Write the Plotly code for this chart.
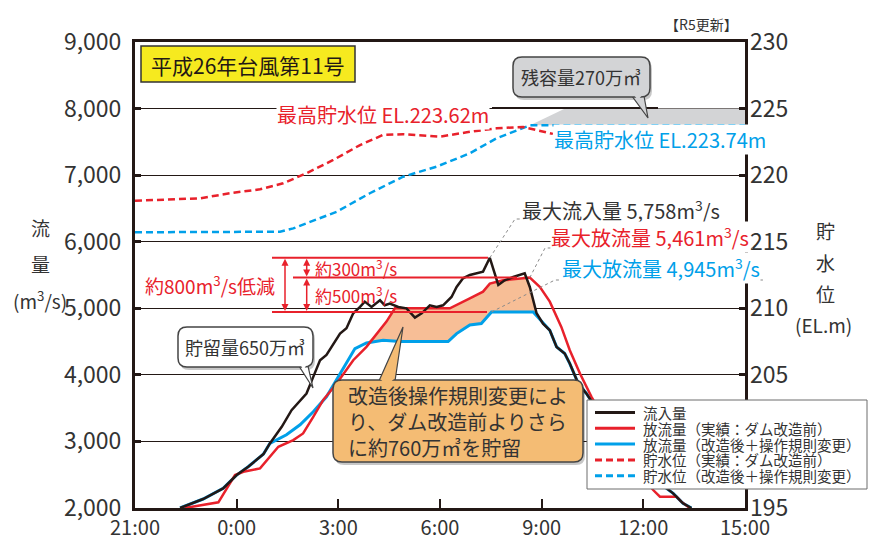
import plotly.graph_objects as go
import numpy as np

# ---------------- data ----------------
x_tick_vals = [0, 3, 6, 9, 12, 15, 18]            # hours since 21:00
x_tick_text = ["21:00", "0:00", "3:00", "6:00", "9:00", "12:00", "15:00"]

inflow_t = [1.33, 2.01, 2.6, 3.0, 3.34, 3.79, 3.98, 4.33, 4.62, 4.87, 5.06, 5.26, 5.46, 5.65,
            5.85, 6.05, 6.24, 6.44, 6.64, 6.78, 6.98, 7.23, 7.37, 7.52, 7.77, 8.01, 8.26, 8.46,
            8.70, 8.90, 9.09, 9.34, 9.49, 9.68, 9.88, 10.08, 10.27, 10.47, 10.72, 10.91, 11.16,
            11.50, 11.65, 11.85, 12.04, 12.24, 12.44, 12.68, 12.83, 13.08, 13.32, 13.8, 14.3,
            14.8, 15.19, 15.49, 15.88, 16.17, 16.42]
inflow_q = [2000, 2135, 2295, 2495, 2620, 2810, 2970, 3220, 3470, 3620, 3720, 3970, 4220, 4300,
            4470, 4620, 4700, 4925, 5020, 5100, 5020, 5120, 5045, 5070, 5020, 5000, 4860, 4925,
            5045, 5020, 5045, 5170, 5320, 5450, 5500, 5525, 5550, 5758, 5350, 5420, 5470,
            5525, 5320, 4925, 4770, 4670, 4420, 4320, 4170, 3870, 3720, 3350, 3000,
            2750, 2520, 2370, 2220, 2070, 2000]

out_act_t = [1.47, 2.46, 2.95, 3.2, 3.69, 3.98, 4.23, 4.67, 4.96, 5.26, 5.55, 5.95, 6.44, 6.83,
             7.1, 7.42, 7.67, 8.11, 9.29, 9.88, 10.27, 10.47, 10.86, 11.45, 11.65, 11.95, 12.24,
             12.58, 12.83, 13.13, 13.47, 14.0, 14.5, 15.0, 15.29, 15.49, 15.98, 16.12, 16.37]
out_act_q = [2000, 2085, 2495, 2545, 2595, 2770, 2920, 3020, 3120, 3370, 3620, 3870, 4220, 4420,
             4600, 4800, 5000, 5000, 5000, 5150, 5250, 5370, 5420, 5450, 5461, 5320, 5100,
             4720, 4370, 4020, 3670, 3200, 2800, 2450, 2270, 2170, 2170, 2095, 2000]

out_mod_t = [1.33, 2.01, 2.6, 3.0, 3.34, 3.79, 3.98, 4.47, 4.87, 5.26, 5.65, 6.05, 6.49, 6.83,
             7.32, 7.82, 9.24, 9.49, 9.88, 10.22, 10.52, 11.75, 11.9, 12.04, 12.24, 12.44,
             12.68, 12.83, 13.08, 13.32, 13.8, 14.3, 14.8, 15.19, 15.49, 15.88, 16.17, 16.42]
out_mod_q = [2000, 2135, 2295, 2495, 2620, 2810, 2970, 3100, 3250, 3445, 3670, 4020, 4395, 4480,
             4520, 4500, 4500, 4620, 4750, 4770, 4945, 4945, 4860, 4770, 4670, 4420,
             4320, 4170, 3870, 3720, 3350, 3000, 2750, 2520, 2370, 2220, 2070, 2000]

lvl_act_t = [0, 1.92, 2.80, 3.69, 4.37, 5.06, 5.85, 6.64, 7.32, 7.91, 9.0, 9.79, 10.67, 11.45, 12.33]
lvl_act_el = [218.08, 218.26, 218.64, 218.94, 219.39, 220.14, 221.14, 222.26, 223.02, 223.07,
              222.89, 223.22, 223.52, 223.62, 223.10]

lvl_mod_t = [0, 4.28, 4.67, 5.06, 5.95, 6.93, 7.91, 8.9, 9.88, 10.67, 11.66, 18]
lvl_mod_el = [215.71, 215.75, 216.0, 216.38, 217.25, 218.64, 219.88, 220.64, 221.64, 222.77,
              223.74, 223.74]

residual_top_t = [12.69, 18]      # 残容量 region top edge
residual_top_el = 225.0

peak_inflow = 5758
peak_out_act = 5461
peak_out_mod = 4945

legend_names = ["流入量", "放流量（実績：ダム改造前）", "放流量（改造後＋操作規則変更）",
                "貯水位（実績：ダム改造前）", "貯水位（改造後＋操作規則変更）"]

# ---------------- styling ----------------
FONT = "Noto Sans CJK JP, Noto Sans CJK SC, sans-serif"
BLACK = "#231815"
RED = "#E8212B"
CYAN = "#00A0E9"
TXT = "#333333"
DASH = "7px,4px"

OFF = 8                      # page body margin of the browser
W, H = 891 - OFF, 538 - OFF
L, R, T, B = 135, 745, 42, 508   # plot area in screenshot pixels
XMAX = 18
Q0, Q1 = 2000, 9000


def px_x(px):
    return (px - L) / (R - L)


def px_y(py):
    return (B - py) / (B - T)


def d2px_x(t):
    return L + t / XMAX * (R - L)


def d2px_y(q):
    return B - (q - Q0) / (Q1 - Q0) * (B - T)


def px2t(px):
    return (px - L) / (R - L) * XMAX


def P(x, y):
    return "{:.5f},{:.5f}".format(px_x(x), px_y(y))


fig = go.Figure()

# residual capacity (gray)
mt = np.array(lvl_mod_t)
me = np.array(lvl_mod_el)
mask = mt >= 11.66
gx = [mt[mask][0]] + residual_top_t + [mt[mask][-1]]
gy = [me[mask][0], residual_top_el, residual_top_el, me[mask][-1]]
fig.add_trace(go.Scatter(x=gx, y=gy, yaxis="y2", fill="toself", fillcolor="#D3D4D6",
                         line=dict(width=0), mode="lines", showlegend=False, hoverinfo="skip"))

# extra storage (orange)
at = np.array(out_act_t); aq = np.array(out_act_q)
it = np.array(inflow_t); iq = np.array(inflow_q)
bt = np.array(out_mod_t); bq = np.array(out_mod_q)
m1 = (at > 6.9) & (at <= 11.46)
m2 = (it >= 11.5) & (it <= 11.86)
m3 = (bt >= 6.8) & (bt <= 11.76)
ox = list(at[m1]) + list(it[m2]) + list(bt[m3][::-1])
oy = list(aq[m1]) + list(iq[m2]) + list(bq[m3][::-1])
fig.add_trace(go.Scatter(x=ox, y=oy, fill="toself", fillcolor="#F7BE96",
                         line=dict(width=0), mode="lines", showlegend=False, hoverinfo="skip"))

fig.add_trace(go.Scatter(x=lvl_mod_t, y=lvl_mod_el, yaxis="y2", mode="lines",
                         line=dict(color=CYAN, width=2.5, dash=DASH), name=legend_names[4]))
fig.add_trace(go.Scatter(x=lvl_act_t, y=lvl_act_el, yaxis="y2", mode="lines",
                         line=dict(color=RED, width=2.5, dash=DASH), name=legend_names[3]))
fig.add_trace(go.Scatter(x=out_mod_t, y=out_mod_q, mode="lines",
                         line=dict(color=CYAN, width=3), name=legend_names[2]))
fig.add_trace(go.Scatter(x=out_act_t, y=out_act_q, mode="lines",
                         line=dict(color=RED, width=2.5), name=legend_names[1]))
fig.add_trace(go.Scatter(x=inflow_t, y=inflow_q, mode="lines",
                         line=dict(color=BLACK, width=2.5), name=legend_names[0]))

shapes = []
annots = []

# red reduction reference lines
for q, x0, x1 in [(peak_inflow, 272, 488), (peak_out_act, 293, 517), (peak_out_mod, 272, 487)]:
    shapes.append(dict(type="line", xref="x", yref="y", x0=px2t(x0), x1=px2t(x1), y0=q, y1=q,
                       line=dict(color=RED, width=2), layer="above"))

# double arrows (drawn as shapes)
for xp_, ya, yb in [(285, peak_inflow, peak_out_mod), (306.7, peak_inflow, peak_out_act),
                    (306.7, peak_out_act, peak_out_mod)]:
    yt, yb_ = d2px_y(ya), d2px_y(yb)
    shapes.append(dict(type="line", xref="paper", yref="paper", x0=px_x(xp_), x1=px_x(xp_),
                       y0=px_y(yt + 5), y1=px_y(yb_ - 5), line=dict(color=RED, width=1.5),
                       layer="above"))
    for tip, base in [(yt + 1, yt + 8), (yb_ - 1, yb_ - 8)]:
        shapes.append(dict(type="path", xref="paper", yref="paper",
                           path="M " + P(xp_, tip) + " L " + P(xp_ - 3.5, base) + " L " +
                                P(xp_ + 3.5, base) + " Z",
                           fillcolor=RED, line=dict(width=0), layer="above"))


def peak_of(ts, qs):
    i = int(np.argmax(qs))
    return ts[i], qs[i]


# leader lines (dotted)
for (ts, qs), (mx, my), endx in [((inflow_t, inflow_q), (515, 219), 720),
                                 ((out_act_t, out_act_q), (545, 248), 753),
                                 ((out_mod_t, out_mod_q), (555, 280), 765)]:
    pt, pq = peak_of(ts, qs)
    path = "M " + P(d2px_x(pt), d2px_y(pq)) + " L " + P(mx, my) + " L " + P(endx, my)
    shapes.append(dict(type="path", xref="paper", yref="paper", path=path,
                       line=dict(color="#8a8a8a", width=1, dash="dot"), layer="above"))

# thicker line segment at 225
shapes.append(dict(type="line", xref="paper", yref="paper", x0=px_x(492), x1=px_x(658),
                   y0=px_y(108), y1=px_y(108), line=dict(color=BLACK, width=2), layer="above"))


def rrect(x0, y0, x1, y1, r):
    return ("M " + P(x0 + r, y0) + " L " + P(x1 - r, y0) + " Q " + P(x1, y0) + " " + P(x1, y0 + r) +
            " L " + P(x1, y1 - r) + " Q " + P(x1, y1) + " " + P(x1 - r, y1) +
            " L " + P(x0 + r, y1) + " Q " + P(x0, y1) + " " + P(x0, y1 - r) +
            " L " + P(x0, y0 + r) + " Q " + P(x0, y0) + " " + P(x0 + r, y0) + " Z")


def tri(p1, p2, p3):
    return "M " + P(*p1) + " L " + P(*p2) + " L " + P(*p3) + " Z"


def callout(box, ptr, fill, text, size, center):
    x0, y0, x1, y1 = box
    shapes.append(dict(type="path", xref="paper", yref="paper", path=rrect(x0 + 2, y0 + 3, x1 + 2, y1 + 3, 9),
                       fillcolor="rgba(0,0,0,0.22)", line=dict(width=0), layer="above"))
    shapes.append(dict(type="path", xref="paper", yref="paper", path=tri(*ptr),
                       fillcolor=fill, line=dict(color="#444444", width=1.2), layer="above"))
    shapes.append(dict(type="path", xref="paper", yref="paper", path=rrect(x0, y0, x1, y1, 9),
                       fillcolor=fill, line=dict(color="#444444", width=1.5), layer="above"))
    shapes.append(dict(type="path", xref="paper", yref="paper",
                       path=tri((ptr[0][0] + 1, ptr[0][1] - 2), (ptr[1][0] - 1, ptr[1][1] - 2),
                                ((ptr[0][0] + ptr[1][0]) / 2, ptr[0][1] + 4)),
                       fillcolor=fill, line=dict(width=0), layer="above"))
    annots.append(dict(x=px_x(center[0]), y=px_y(center[1]), xref="paper", yref="paper",
                       text=text, showarrow=False, font=dict(size=size, color=TXT),
                       xanchor="center", yanchor="middle", align="left"))


callout((513, 57, 650, 97), ((632, 96), (644, 96), (648, 118)), "#D3D4D6",
        "残容量270万㎥", 18, (581, 77))
callout((178, 327, 313, 367), ((299, 366), (308, 366), (313, 388)), "#FFFFFF",
        "貯留量650万㎥", 18, (245, 347))
callout((333, 380, 583, 462), ((379, 381), (395, 381), (403, 327)), "#F4BC74",
        "改造後操作規則変更によ<br>り、ダム改造前よりさら<br>に約760万㎥を貯留", 20, (458, 421))


def label(text, cx, cy, color, size, bg=None, xanchor="center"):
    d = dict(x=px_x(cx), y=px_y(cy), xref="paper", yref="paper", text=text, showarrow=False,
             font=dict(size=size, color=color), xanchor=xanchor, yanchor="middle", borderpad=0)
    if bg:
        d["bgcolor"] = bg
    annots.append(d)


# title box
shapes.append(dict(type="rect", xref="paper", yref="paper", x0=px_x(141), x1=px_x(355),
                   y0=px_y(46), y1=px_y(82), fillcolor="#F6EA1F",
                   line=dict(color="#333333", width=1.5), layer="above"))
label("平成26年台風第11号", 248, 64.5, BLACK, 21)
label("【R5更新】", 701, 24, TXT, 14)

label("最高貯水位 EL.223.62m", 383, 115, RED, 20, "white")
label("最高貯水位 EL.223.74m", 660, 139, CYAN, 20, "white")
label("最大流入量 5,758m<sup>3</sup>/s", 621, 210, TXT, 20, "white")
label("最大放流量 5,461m<sup>3</sup>/s", 650, 237, RED, 20, "white")
label("最大放流量 4,945m<sup>3</sup>/s", 661, 268, CYAN, 20, "white")
label("約800m<sup>3</sup>/s低減", 210, 285, RED, 19)
label("約300m<sup>3</sup>/s", 356, 268, RED, 17)
label("約500m<sup>3</sup>/s", 356, 295, RED, 17)

# axis titles
for t_, cx, cy in [("流", 40, 228), ("量", 40, 263), ("(m<sup>3</sup>/s)", 40, 300)]:
    label(t_, cx, cy, TXT, 19)
for t_, cx, cy in [("貯", 825, 230), ("水", 825, 262), ("位", 825, 293), ("(EL.m)", 823, 324)]:
    label(t_, cx, cy, TXT, 19)

# legend box (drawn)
shapes.append(dict(type="rect", xref="paper", yref="paper", x0=px_x(587), x1=px_x(867),
                   y0=px_y(400), y1=px_y(489), fillcolor="white",
                   line=dict(color="#6d6d6d", width=1), layer="above"))
leg_styles = [(BLACK, None), (RED, None), (CYAN, None), (RED, DASH), (CYAN, DASH)]
for k, (name, (col, dash)) in enumerate(zip(legend_names, leg_styles)):
    yy = 412.5 + k * 15.8
    ln = dict(color=col, width=3)
    if dash:
        ln["dash"] = dash
    shapes.append(dict(type="line", xref="paper", yref="paper", x0=px_x(595), x1=px_x(635),
                       y0=px_y(yy), y1=px_y(yy), line=ln, layer="above"))
    label(name, 642, yy, TXT, 14.5, xanchor="left")

fig.update_layout(
    width=W, height=H,
    margin=dict(l=L - OFF, r=W - (R - OFF), t=T - OFF, b=H - (B - OFF), autoexpand=False),
    paper_bgcolor="white", plot_bgcolor="white",
    font=dict(family=FONT, color=TXT),
    showlegend=False,
    xaxis=dict(range=[0, XMAX], tickvals=x_tick_vals, ticktext=x_tick_text, ticks="inside",
               ticklen=9, tickwidth=2, tickcolor=BLACK, showline=True, linewidth=3,
               linecolor=BLACK, mirror=True, showgrid=False, zeroline=False,
               tickfont=dict(size=20, color=TXT)),
    yaxis=dict(range=[Q0, Q1], dtick=1000, tickformat=",", ticks="inside", ticklen=6,
               tickwidth=2.5, tickcolor=BLACK, showline=True, linewidth=3, linecolor=BLACK,
               mirror=True, showgrid=True, gridcolor=BLACK, gridwidth=1, zeroline=False,
               tickfont=dict(size=23, color=TXT), ticklabelstandoff=6),
    yaxis2=dict(range=[195, 230], dtick=5, overlaying="y", side="right", ticks="inside",
                ticklen=6, tickwidth=2.5, tickcolor=BLACK, showline=False, showgrid=False,
                zeroline=False, tickfont=dict(size=23, color=TXT), ticklabelstandoff=4),
    shapes=shapes, annotations=annots,
)

fig.write_html("out.html")
